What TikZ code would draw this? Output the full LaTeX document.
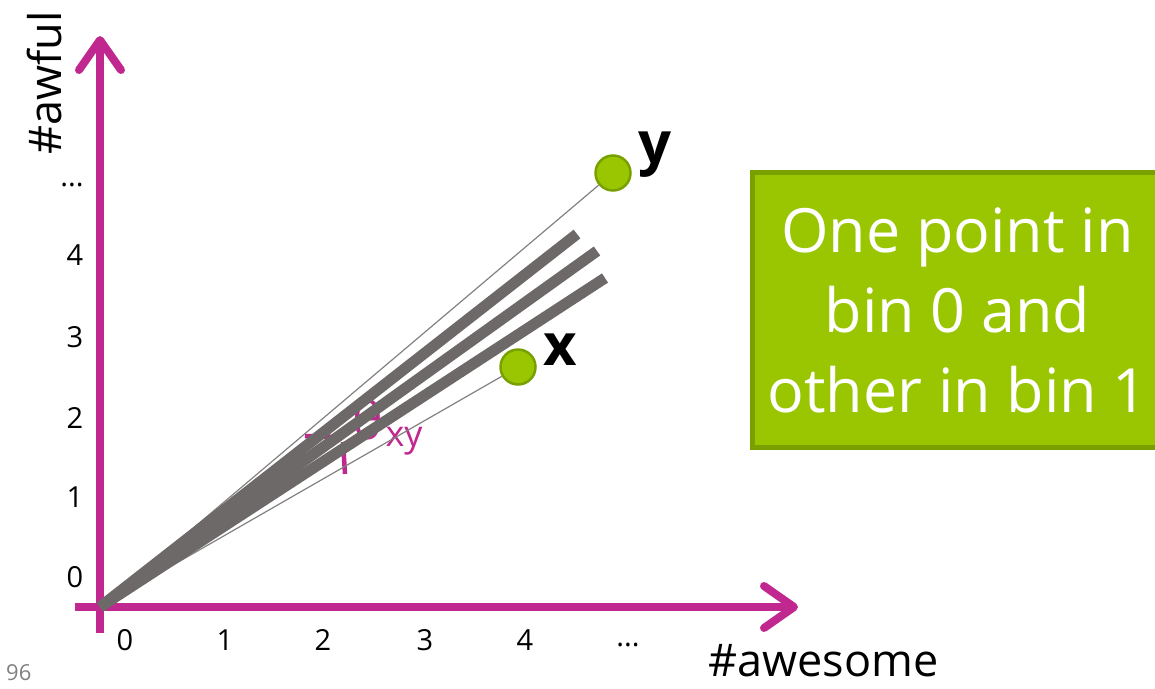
\documentclass[tikz,border=0pt]{standalone}
\usepackage{fontspec}
\setmainfont{Open Sans}
\usetikzlibrary{arrows.meta}
\definecolor{axmag}{HTML}{C0288F}
\definecolor{bargray}{HTML}{6D6969}
\definecolor{ptgreen}{HTML}{99C600}
\definecolor{ptborder}{HTML}{78A100}
\begin{document}
\begin{tikzpicture}[x=1pt,y=-1pt,
  axisline/.style={draw=axmag,line width=8pt,-{Straight Barb[length=30pt,width=42pt,round]}},
  thickbar/.style={draw=bargray,line width=11pt},
  thinline/.style={draw=bargray!85,line width=1.2pt},
  pointdot/.style={circle,fill=ptgreen,draw=ptborder,line width=2.5pt,minimum size=35pt,inner sep=0pt},
  ticklab/.style={font=\fontsize{29}{30}\selectfont,inner sep=0pt},
  axislab/.style={font=\fontsize{45}{48}\selectfont,inner sep=0pt},
  ptlab/.style={font=\fontsize{58}{60}\selectfont\bfseries,inner sep=0pt},
  infobox/.style={fill=ptgreen,draw=ptborder,line width=5pt,text=white,align=center,
    font=\fontsize{61}{80}\selectfont,inner sep=0pt,minimum width=410pt,minimum height=275pt}]
\useasboundingbox (0,0) rectangle (1155,688);
% coordinates
\coordinate (O) at (100,607);
\coordinate (xl) at (75,607);
\coordinate (xe) at (798,607);
\coordinate (yb) at (100,633);
\coordinate (ye) at (100,36);
\coordinate (t1) at (577,234);
\coordinate (t2) at (597,251);
\coordinate (t3) at (605,278);
% angle label (under the lines)
\node[text=axmag,font=\fontsize{52}{54}\selectfont,inner sep=0pt] (theta) at (368,420) {θ};
\node[text=axmag,font=\fontsize{36}{38}\selectfont,inner sep=0pt] (sub) at (404,441) {xy};
\coordinate (m1) at (305,436);
\coordinate (m2) at (339,437);
\coordinate (m3) at (343,442);
\coordinate (m4) at (345,474);
\draw[axmag,line width=4.5pt] (m1) -- (m2);
\draw[axmag,line width=4.5pt] (m3) -- (m4);
% axes
\draw[axisline] (xl) -- (xe);
\draw[axisline] (yb) -- (ye);
% points
\node[pointdot] (y) at (613,173) {};
\node[pointdot] (x) at (518,367) {};
\node[ptlab,anchor=west] (ylab) at (638,155) {y};
\node[ptlab,anchor=west] (xlab) at (543,350) {x};
% thin lines
\draw[thinline] (O) -- (y);
\draw[thinline] (O) -- (x);
% thick bars
\draw[thickbar] (O) -- (t1);
\draw[thickbar] (O) -- (t2);
\draw[thickbar] (O) -- (t3);
% tick labels
\node[ticklab] (a0) at (125,640) {0};
\node[ticklab] (a1) at (225,640) {1};
\node[ticklab] (a2) at (323,640) {2};
\node[ticklab] (a3) at (425,640) {3};
\node[ticklab] (a4) at (525,640) {4};
\node[ticklab] (a5) at (628,645) {...};
\node[ticklab] (b0) at (75,577) {0};
\node[ticklab] (b1) at (75,497) {1};
\node[ticklab] (b2) at (75,418) {2};
\node[ticklab] (b3) at (75,337) {3};
\node[ticklab] (b4) at (75,255) {4};
\node[ticklab] (b5) at (72,185) {...};
% axis labels
\node[axislab,rotate=90,anchor=center] (awful) at (45,83) {\#awful};
\node[axislab,anchor=base west] (awesome) at (708,676) {\#awesome};
\node[font=\fontsize{22}{24}\selectfont,text=gray,anchor=base west,inner sep=0pt] (pg) at (6,680) {96};
% info box
\node[infobox,anchor=north west] (box) at (750,170) {One point in\\bin 0 and\\other in bin 1};
\end{tikzpicture}
\end{document}
